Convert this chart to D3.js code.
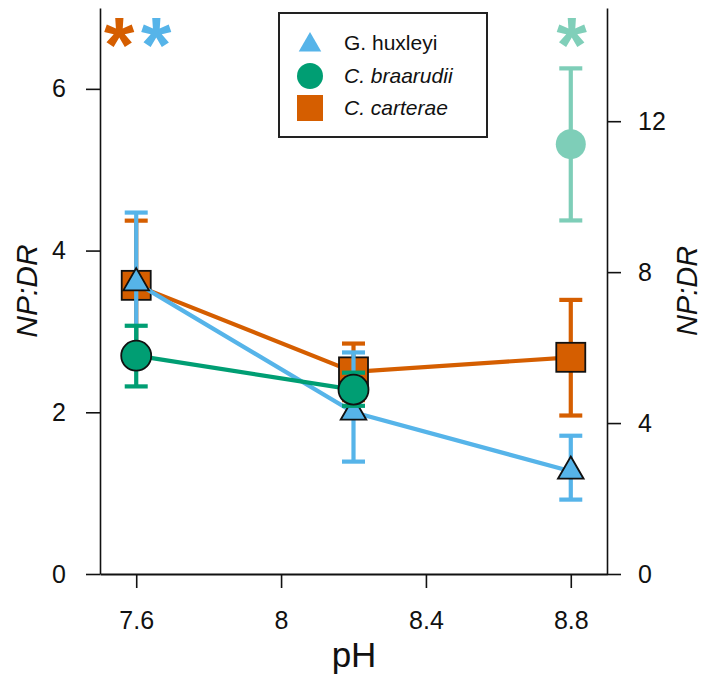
<!DOCTYPE html>
<html>
<head>
<meta charset="utf-8">
<script src="https://cdn.jsdelivr.net/npm/d3@7"></script>
<style>
  html, body { margin: 0; padding: 0; background: #fff; }
  svg { display: block; font-family: "Liberation Sans", Arial, Helvetica, sans-serif; }
</style>
</head>
<body>
<svg id="chart" width="705" height="677"></svg>
<script>
// ---------------- data ----------------
const pH = [7.6, 8.2, 8.8];
const xTicks = [7.6, 8, 8.4, 8.8];
const xTickLabels = ["7.6", "8", "8.4", "8.8"];
const leftTicks = [0, 2, 4, 6];
const rightTicks = [0, 4, 8, 12];

const species = ["G. huxleyi", "C. braarudii", "C. carterae"];
const speciesItalic = [false, true, true];

// C. carterae (orange squares), left axis
const carteraeMean = [3.57, 2.50, 2.68];
const carteraeUpper = [4.37, 2.85, 3.39];
const carteraeLower = [2.77, 2.15, 1.96];

// G. huxleyi (blue triangles), left axis
const huxleyiMean = [3.60, 2.00, 1.27];
const huxleyiUpper = [4.47, 2.74, 1.71];
const huxleyiLower = [2.77, 1.39, 0.92];

// C. braarudii (green circles), left axis at pH 7.6 and 8.2
const braarudiiMean = [2.70, 2.28];
const braarudiiUpper = [3.07, 2.49];
const braarudiiLower = [2.32, 2.08];

// C. braarudii at pH 8.8, right axis
const braarudiiRightMean = [11.39];
const braarudiiRightUpper = [13.40];
const braarudiiRightLower = [9.37];

// significance marks
const starPH = [7.6, 7.6, 8.8];
const starSpecies = ["C. carterae", "G. huxleyi", "C. braarudii"];

// ---------------- styles ----------------
const colOrange = "#D55E00";
const colBlue = "#56B4E9";
const colGreen = "#009E73";
const colPaleGreen = "#80CFB9";

const svg = d3.select("#chart");

const x = d3.scaleLinear().domain([7.5, 8.9]).range([100, 607]);
const yL = d3.scaleLinear().domain([0, 7]).range([574, 8]);
const yR = d3.scaleLinear().domain([0, 15]).range([574, 8]);

// ---------------- axes ----------------
const axisCol = "#111";
// bottom axis
const gx = svg.append("g").attr("transform", "translate(0,574)")
  .call(d3.axisBottom(x).tickValues(xTicks).tickFormat((d, i) => xTickLabels[i]).tickSize(14).tickPadding(23).tickSizeOuter(0));
gx.select(".domain").attr("stroke", axisCol).attr("stroke-width", 2.2);
gx.selectAll(".tick line").attr("stroke", axisCol).attr("stroke-width", 1.6);
gx.selectAll(".tick text").attr("font-size", 25).attr("fill", "#111").attr("font-family", "Liberation Sans, Arial, sans-serif");

// left axis
const gl = svg.append("g").attr("transform", "translate(100,0)")
  .call(d3.axisLeft(yL).tickValues(leftTicks).tickFormat(d3.format("d")).tickSize(14).tickPadding(20).tickSizeOuter(0));
gl.select(".domain").attr("stroke", axisCol).attr("stroke-width", 1.6);
gl.selectAll(".tick line").attr("stroke", axisCol).attr("stroke-width", 1.6);
gl.selectAll(".tick text").attr("font-size", 25).attr("fill", "#111").attr("font-family", "Liberation Sans, Arial, sans-serif");

// right axis
const gr = svg.append("g").attr("transform", "translate(607,0)")
  .call(d3.axisRight(yR).tickValues(rightTicks).tickFormat(d3.format("d")).tickSize(14).tickPadding(17).tickSizeOuter(0));
gr.select(".domain").attr("stroke", axisCol).attr("stroke-width", 1.6);
gr.selectAll(".tick line").attr("stroke", axisCol).attr("stroke-width", 1.6);
gr.selectAll(".tick text").attr("font-size", 25).attr("fill", "#111").attr("font-family", "Liberation Sans, Arial, sans-serif");

// axis titles
svg.append("text").attr("x", 354).attr("y", 667).attr("text-anchor", "middle")
  .attr("font-size", 35).attr("fill", "#111").text("pH");
svg.append("text").attr("transform", "translate(37,291) rotate(-90)").attr("text-anchor", "middle")
  .attr("font-size", 30).attr("font-style", "italic").attr("fill", "#111").text("NP:DR");
svg.append("text").attr("transform", "translate(697,291) rotate(-90)").attr("text-anchor", "middle")
  .attr("font-size", 29).attr("font-style", "italic").attr("fill", "#111").text("NP:DR");

// ---------------- helpers ----------------
const capHalf = 11.5;
const lw = 4.2;
function errorBars(g, xs, lo, hi, ys, color) {
  xs.forEach((xv, i) => {
    const cx = x(xv);
    g.append("line").attr("x1", cx).attr("x2", cx).attr("y1", ys(lo[i])).attr("y2", ys(hi[i]))
      .attr("stroke", color).attr("stroke-width", lw);
    [lo[i], hi[i]].forEach(v => {
      g.append("line").attr("x1", cx - capHalf).attr("x2", cx + capHalf).attr("y1", ys(v)).attr("y2", ys(v))
        .attr("stroke", color).attr("stroke-width", lw);
    });
  });
}
function connect(g, xs, ys, vals, color) {
  const line = d3.line().x((d, i) => x(xs[i])).y(d => ys(d));
  g.append("path").attr("d", line(vals)).attr("fill", "none").attr("stroke", color).attr("stroke-width", lw);
}
const triR = 14.8;
function triPath(cx, cy, r) {
  const hw = r * 0.866, yb = cy + r / 2;
  return `M${cx},${cy - r}L${cx + hw},${yb}L${cx - hw},${yb}Z`;
}

// ---------------- C. carterae ----------------
const gO = svg.append("g");
connect(gO, pH, yL, carteraeMean, colOrange);
errorBars(gO, pH, carteraeLower, carteraeUpper, yL, colOrange);
gO.selectAll("rect.pt").data(carteraeMean).join("rect").attr("class", "pt")
  .attr("x", (d, i) => x(pH[i]) - 14.5).attr("y", d => yL(d) - 14.5)
  .attr("width", 29).attr("height", 29)
  .attr("fill", colOrange).attr("stroke", "#111").attr("stroke-width", 1.8);

// ---------------- G. huxleyi ----------------
const gB = svg.append("g");
connect(gB, pH, yL, huxleyiMean, colBlue);
errorBars(gB, pH, huxleyiLower, huxleyiUpper, yL, colBlue);
gB.selectAll("path.pt").data(huxleyiMean).join("path").attr("class", "pt")
  .attr("d", (d, i) => triPath(x(pH[i]), yL(d), triR))
  .attr("fill", colBlue).attr("stroke", "#111").attr("stroke-width", 1.8).attr("stroke-linejoin", "miter");

// ---------------- C. braarudii ----------------
const gG = svg.append("g");
const pHg = pH.slice(0, 2);
connect(gG, pHg, yL, braarudiiMean, colGreen);
errorBars(gG, pHg, braarudiiLower, braarudiiUpper, yL, colGreen);
gG.selectAll("circle.pt").data(braarudiiMean).join("circle").attr("class", "pt")
  .attr("cx", (d, i) => x(pHg[i])).attr("cy", d => yL(d)).attr("r", 15)
  .attr("fill", colGreen).attr("stroke", "#111").attr("stroke-width", 1.8);

// right-axis point (transparent)
const gP = svg.append("g").attr("opacity", 0.5);
errorBars(gP, [pH[2]], braarudiiRightLower, braarudiiRightUpper, yR, colGreen);
gP.selectAll("circle.pt").data(braarudiiRightMean).join("circle").attr("class", "pt")
  .attr("cx", x(pH[2])).attr("cy", d => yR(d)).attr("r", 15)
  .attr("fill", colGreen);

// ---------------- asterisks ----------------
const starColor = { "C. carterae": colOrange, "G. huxleyi": colBlue, "C. braarudii": colPaleGreen };
const starOffset = [-17, 20, 1];
svg.selectAll("text.star").data(starPH).join("text").attr("class", "star")
  .attr("x", (d, i) => x(d) + starOffset[i]).attr("y", 72)
  .attr("text-anchor", "middle").attr("font-size", 78).attr("font-weight", "bold")
  .attr("fill", (d, i) => starColor[starSpecies[i]]).text("*");

// ---------------- legend ----------------
const lg = svg.append("g");
lg.append("rect").attr("x", 279).attr("y", 13).attr("width", 208).attr("height", 124)
  .attr("fill", "#fff").attr("stroke", "#222").attr("stroke-width", 2);
const legY = [43, 76, 108];
lg.append("path").attr("d", triPath(310, legY[0] + 2, 13)).attr("fill", colBlue);
lg.append("circle").attr("cx", 310).attr("cy", legY[1]).attr("r", 13).attr("fill", colGreen);
lg.append("rect").attr("x", 297).attr("y", legY[2] - 13).attr("width", 26).attr("height", 26).attr("fill", colOrange);
species.forEach((s, i) => {
  lg.append("text").attr("x", 344).attr("y", legY[i] + 7).attr("font-size", 21)
    .attr("font-style", speciesItalic[i] ? "italic" : "normal").attr("fill", "#111").text(s);
});
</script>
</body>
</html>
